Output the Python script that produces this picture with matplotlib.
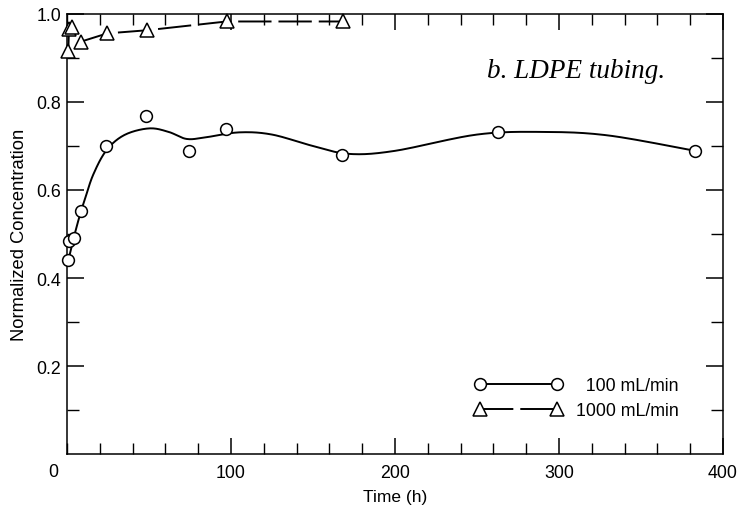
import numpy as np
import matplotlib.pyplot as plt
from matplotlib.ticker import MultipleLocator, FixedLocator

# 100 mL/min measurements
t_100 = [0.8, 1.2, 4.3, 8.3, 24, 48, 74.5, 96.7, 167.5, 263, 383]
c_100 = [0.44, 0.484, 0.49, 0.552, 0.70, 0.769, 0.689, 0.739, 0.68, 0.732, 0.689]

# smooth fit through the 100 mL/min points (knots)
fit_t = [0.8, 4, 8, 11, 16, 24, 35, 50, 62, 73, 85, 105, 125, 150, 172, 200, 250, 290, 330, 383]
fit_c = [0.44, 0.49, 0.545, 0.58, 0.635, 0.69, 0.725, 0.740, 0.732, 0.716, 0.72,
         0.731, 0.726, 0.70, 0.682, 0.689, 0.726, 0.732, 0.724, 0.689]

# 1000 mL/min measurements
t_1000 = [0.8, 1.2, 3, 8.3, 24.6, 48.6, 97.3, 168]
c_1000 = [0.917, 0.966, 0.97, 0.937, 0.956, 0.963, 0.983, 0.983]

x_ticks = [100, 200, 300, 400]
y_ticks = [0.2, 0.4, 0.6, 0.8, 1.0]


def catmull_rom(xs, ys, n=20):
    # Catmull-Rom smoothing between the curve knots
    p = np.column_stack([xs, ys]).astype(float)
    p = np.vstack([p[0], p, p[-1]])
    out = []
    s = np.linspace(0, 1, n, endpoint=False)[:, None]
    for i in range(1, len(p) - 2):
        p0, p1, p2, p3 = p[i - 1], p[i], p[i + 1], p[i + 2]
        seg = 0.5 * ((2 * p1) + (-p0 + p2) * s + (2 * p0 - 5 * p1 + 4 * p2 - p3) * s ** 2
                     + (-p0 + 3 * p1 - 3 * p2 + p3) * s ** 3)
        out.append(seg)
    out.append(p[-2][None, :])
    out = np.vstack(out)
    return out[:, 0], out[:, 1]


plt.rcParams['font.family'] = ['Liberation Sans', 'DejaVu Sans']
plt.rcParams['lines.scale_dashes'] = False

fig = plt.figure(figsize=(7.38, 5.10), dpi=100)
ax = fig.add_axes([67 / 738, 1 - 455 / 510, 656 / 738, 440 / 510])

cx, cy = catmull_rom(fit_t, fit_c)
ax.plot(cx, cy, color='black', lw=1.4)
ax.plot(t_100, c_100, 'o', ms=8.5, mfc='white', mec='black', mew=1.1, zorder=3,
        clip_on=False)

ax.plot(t_1000, c_1000, color='black', lw=1.4, dashes=(24, 5),
        marker='^', ms=10, mfc='white', mec='black', mew=1.1, zorder=3, clip_on=False)

# legend handles
h1, = ax.plot([], [], color='black', lw=1.4, marker='o', ms=8.5, mfc='white',
              mec='black', mew=1.1)
h2, = ax.plot([], [], color='black', lw=1.4, dashes=(24, 5), marker='^', ms=10,
              mfc='white', mec='black', mew=1.1)
leg = ax.legend([h1, h2], ['  100 mL/min', '1000 mL/min'], loc='upper left',
                bbox_to_anchor=(0.622, 0.174), frameon=False, numpoints=2,
                handlelength=4.9, handletextpad=0.8, labelspacing=0.45,
                borderpad=0, borderaxespad=0, fontsize=12.8)

ax.set_xlim(0, 400)
ax.set_ylim(0, 1.0)
ax.xaxis.set_major_locator(FixedLocator(x_ticks))
ax.xaxis.set_minor_locator(MultipleLocator(20))
ax.yaxis.set_major_locator(FixedLocator(y_ticks))
ax.yaxis.set_minor_locator(FixedLocator([0.1, 0.3, 0.5, 0.7, 0.9]))
ax.tick_params(which='both', direction='in', top=True, right=True, labelsize=12.8)
ax.tick_params(which='major', length=12, width=1.1)
ax.tick_params(which='minor', length=8.5, width=1.0)
ax.tick_params(axis='x', which='major', length=11.5, pad=7)
ax.tick_params(axis='x', which='minor', length=8)
ax.tick_params(axis='y', which='major', pad=4)
for s in ax.spines.values():
    s.set_linewidth(1.1)

ax.text(-0.021, -0.039, '0', transform=ax.transAxes, ha='center', va='center', fontsize=12.8)

ax.set_xlabel('Time (h)', fontsize=12.5, labelpad=6)
ax.set_ylabel('Normalized Concentration', fontsize=13.2, labelpad=6)

ax.text(0.912, 0.857, 'b. LDPE tubing.', transform=ax.transAxes, ha='right', va='baseline',
        fontsize=19.5, style='italic', family=['Liberation Serif'])

fig.savefig('out.png', dpi=100)
